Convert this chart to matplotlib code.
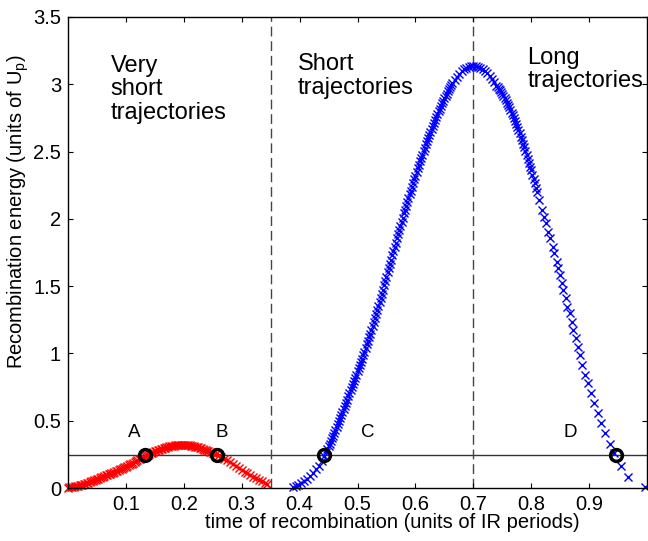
import numpy as np
import matplotlib.pyplot as plt

plt.rcParams['font.family'] = ['Liberation Sans', 'DejaVu Sans']
plt.rcParams['mathtext.default'] = 'regular'

# very short trajectories (red)
red_t = [0.0000, 0.0025, 0.0050, 0.0075, 0.0100, 0.0125, 0.0150, 0.0175, 0.0200, 0.0225,
         0.0250, 0.0275, 0.0300, 0.0325, 0.0350, 0.0375, 0.0400, 0.0425, 0.0450, 0.0475,
         0.0500, 0.0525, 0.0550, 0.0575, 0.0600, 0.0625, 0.0650, 0.0675, 0.0700, 0.0725,
         0.0750, 0.0775, 0.0800, 0.0825, 0.0850, 0.0875, 0.0900, 0.0925, 0.0950, 0.0975,
         0.1000, 0.1025, 0.1050, 0.1075, 0.1100, 0.1125, 0.1150, 0.1175, 0.1200, 0.1225,
         0.1250, 0.1275, 0.1300, 0.1325, 0.1350, 0.1375, 0.1400, 0.1425, 0.1450, 0.1475,
         0.1500, 0.1525, 0.1550, 0.1575, 0.1600, 0.1625, 0.1650, 0.1675, 0.1700, 0.1725,
         0.1750, 0.1775, 0.1800, 0.1825, 0.1850, 0.1875, 0.1900, 0.1925, 0.1950, 0.1975,
         0.2000, 0.2025, 0.2050, 0.2075, 0.2100, 0.2125, 0.2150, 0.2175, 0.2200, 0.2225,
         0.2250, 0.2275, 0.2300, 0.2325, 0.2350, 0.2375, 0.2400, 0.2425, 0.2450, 0.2475,
         0.250, 0.255, 0.260, 0.265, 0.270, 0.275, 0.280, 0.285, 0.290, 0.295,
         0.300, 0.305, 0.310, 0.315, 0.320, 0.325, 0.330, 0.335, 0.340, 0.344]
red_E = [0.003, 0.004, 0.006, 0.008, 0.010, 0.012, 0.014, 0.016, 0.019, 0.022,
         0.025, 0.028, 0.032, 0.036, 0.040, 0.045, 0.050, 0.054, 0.058, 0.062,
         0.066, 0.070, 0.075, 0.079, 0.084, 0.088, 0.093, 0.097, 0.102, 0.106,
         0.111, 0.115, 0.120, 0.124, 0.129, 0.133, 0.138, 0.143, 0.148, 0.153,
         0.158, 0.164, 0.170, 0.176, 0.182, 0.188, 0.194, 0.200, 0.206, 0.212,
         0.218, 0.224, 0.230, 0.236, 0.242, 0.247, 0.253, 0.258, 0.263, 0.268,
         0.273, 0.277, 0.282, 0.286, 0.290, 0.293, 0.297, 0.300, 0.303, 0.306,
         0.309, 0.311, 0.313, 0.315, 0.317, 0.318, 0.319, 0.320, 0.320, 0.320,
         0.320, 0.320, 0.319, 0.318, 0.317, 0.315, 0.313, 0.311, 0.308, 0.305,
         0.301, 0.298, 0.294, 0.290, 0.286, 0.282, 0.278, 0.274, 0.269, 0.265,
         0.261, 0.252, 0.242, 0.230, 0.218, 0.205, 0.191, 0.177, 0.162, 0.148,
         0.134, 0.121, 0.108, 0.095, 0.083, 0.072, 0.061, 0.050, 0.038, 0.028]

# short + long trajectories (blue)
blue_t = [0.388, 0.393, 0.398, 0.403, 0.408, 0.413, 0.418, 0.423, 0.428, 0.433,
          0.438, 0.443, 0.446, 0.448, 0.450, 0.452, 0.454, 0.456, 0.458, 0.460,
          0.462, 0.464, 0.466, 0.468, 0.470, 0.472, 0.474, 0.476, 0.478, 0.480,
          0.482, 0.484, 0.486, 0.488, 0.490, 0.492, 0.494, 0.496, 0.498, 0.500,
          0.502, 0.504, 0.506, 0.508, 0.510, 0.512, 0.514, 0.516, 0.518, 0.520,
          0.522, 0.524, 0.526, 0.528, 0.530, 0.532, 0.534, 0.536, 0.538, 0.540,
          0.542, 0.544, 0.546, 0.548, 0.550, 0.552, 0.554, 0.556, 0.558, 0.560,
          0.562, 0.564, 0.566, 0.568, 0.570, 0.572, 0.574, 0.576, 0.578, 0.580,
          0.582, 0.584, 0.586, 0.588, 0.590, 0.592, 0.594, 0.596, 0.598, 0.600,
          0.602, 0.604, 0.606, 0.608, 0.610, 0.612, 0.614, 0.616, 0.618, 0.620,
          0.622, 0.624, 0.626, 0.628, 0.630, 0.632, 0.634, 0.636, 0.638, 0.640,
          0.642, 0.644, 0.646, 0.648, 0.650, 0.652, 0.654, 0.656, 0.658, 0.660,
          0.662, 0.664, 0.668, 0.672, 0.676, 0.680, 0.684, 0.688, 0.692, 0.696,
          0.700, 0.704, 0.708, 0.712, 0.716, 0.720, 0.724, 0.728, 0.732, 0.736,
          0.740, 0.742, 0.744, 0.746, 0.748, 0.750, 0.752, 0.754, 0.756, 0.758,
          0.760, 0.762, 0.764, 0.766, 0.768, 0.770, 0.772, 0.774, 0.776, 0.778,
          0.780, 0.782, 0.784, 0.786, 0.788, 0.790, 0.792, 0.794, 0.796, 0.798,
          0.800, 0.802, 0.804, 0.806, 0.808, 0.810,
          0.8138, 0.8195, 0.8224, 0.8253, 0.8293, 0.8322, 0.8368, 0.8397, 0.8437, 0.8471,
          0.8495, 0.8529, 0.8557, 0.8598, 0.8626, 0.8667, 0.8701, 0.8730, 0.8770, 0.8810,
          0.8845, 0.8885, 0.8931, 0.8983, 0.9034, 0.9092, 0.9150, 0.9207, 0.9276, 0.9357,
          0.9437, 0.9546, 0.9678, 0.9960]
blue_E = [0.005, 0.013, 0.024, 0.037, 0.052, 0.070, 0.090, 0.113, 0.138, 0.166,
          0.198, 0.235, 0.265, 0.290, 0.310, 0.330, 0.350, 0.370, 0.390, 0.410,
          0.432, 0.454, 0.477, 0.499, 0.521, 0.543, 0.566, 0.589, 0.612, 0.634,
          0.657, 0.680, 0.703, 0.727, 0.750, 0.773, 0.797, 0.820, 0.843, 0.867,
          0.890, 0.913, 0.937, 0.960, 0.987, 1.013, 1.040, 1.067, 1.093, 1.120,
          1.148, 1.177, 1.205, 1.233, 1.262, 1.290, 1.321, 1.352, 1.382, 1.413,
          1.444, 1.475, 1.507, 1.538, 1.570, 1.602, 1.633, 1.665, 1.697, 1.728,
          1.760, 1.792, 1.823, 1.855, 1.886, 1.917, 1.947, 1.978, 2.009, 2.040,
          2.068, 2.097, 2.125, 2.153, 2.182, 2.210, 2.238, 2.265, 2.293, 2.320,
          2.348, 2.375, 2.401, 2.427, 2.453, 2.478, 2.504, 2.530, 2.553, 2.577,
          2.600, 2.623, 2.647, 2.670, 2.692, 2.713, 2.735, 2.757, 2.778, 2.800,
          2.819, 2.838, 2.858, 2.877, 2.896, 2.915, 2.931, 2.947, 2.963, 2.978,
          2.994, 3.010, 3.035, 3.057, 3.078, 3.096, 3.110, 3.121, 3.129, 3.134,
          3.136, 3.135, 3.131, 3.124, 3.114, 3.100, 3.083, 3.063, 3.040, 3.014,
          2.988, 2.978, 2.966, 2.954, 2.941, 2.928, 2.912, 2.896, 2.880, 2.864,
          2.848, 2.828, 2.809, 2.789, 2.770, 2.750, 2.727, 2.704, 2.681, 2.658,
          2.635, 2.609, 2.583, 2.557, 2.531, 2.505, 2.476, 2.447, 2.418, 2.389,
          2.360, 2.328, 2.296, 2.264, 2.232, 2.200,
          2.140, 2.065, 2.016, 1.966, 1.904, 1.855, 1.793, 1.743, 1.681, 1.632,
          1.582, 1.521, 1.471, 1.409, 1.347, 1.298, 1.236, 1.174, 1.112, 1.050,
          0.988, 0.914, 0.840, 0.778, 0.704, 0.634, 0.560, 0.485, 0.406, 0.327,
          0.258, 0.166, 0.084, 0.010]

# marked points A-D on the energy level
level = 0.245
point_t = [0.133, 0.258, 0.443, 0.946]
point_labels = ['A', 'B', 'C', 'D']
label_t = [0.114, 0.266, 0.518, 0.868]
label_E = 0.41
borders = [0.35, 0.70]

fig = plt.figure(figsize=(6.48, 5.41), dpi=100)
ax = fig.add_axes([68 / 648, 53 / 541, 579 / 648, 471 / 541])

ax.plot(red_t, red_E, 'x', color='red', markersize=6, markeredgewidth=1.0,
        clip_on=False)
ax.plot(blue_t, blue_E, 'x', color='blue', markersize=5.8, markeredgewidth=1.0,
        clip_on=False)

ax.axhline(level, color='#333333', linewidth=1.0, zorder=1)
for b in borders:
    ax.axvline(b, color='#444444', linewidth=1.0, dashes=(7, 3.5), zorder=1)

ax.plot(point_t, [level] * len(point_t), 'o', markerfacecolor='none',
        markeredgecolor='black', markeredgewidth=2.5, markersize=8.5,
        zorder=5, clip_on=False)
for lt, lab in zip(label_t, point_labels):
    ax.text(lt, label_E, lab, fontsize=13.5, ha='center', va='center')

ax.text(0.074, 3.22, 'Very\nshort\ntrajectories', fontsize=17,
        va='top', ha='left', linespacing=1.1)
ax.text(0.397, 3.23, 'Short\ntrajectories', fontsize=17,
        va='top', ha='left', linespacing=1.1)
ax.text(0.793, 3.28, 'Long\ntrajectories', fontsize=17,
        va='top', ha='left', linespacing=1.1)

ax.set_xlim(0, 1)
ax.set_ylim(0, 3.5)
ax.set_xticks([0.1, 0.2, 0.3, 0.4, 0.5, 0.6, 0.7, 0.8, 0.9])
ax.set_xticklabels(['0.1', '0.2', '0.3', '0.4', '0.5', '0.6', '0.7', '0.8', '0.9'])
ax.set_yticks([0, 0.5, 1, 1.5, 2, 2.5, 3, 3.5])
ax.set_yticklabels(['0', '0.5', '1', '1.5', '2', '2.5', '3', '3.5'])
ax.tick_params(direction='in', top=True, right=True, length=3.6,
               width=0.8, labelsize=14.5, pad=5)
for s in ax.spines.values():
    s.set_linewidth(1.0)

fig.text(392 / 648, 1 - 523 / 541, 'time of recombination (units of IR periods)',
         fontsize=14.5, ha='center', va='center')
fig.text(18 / 648, 1 - 212 / 541, 'Recombination energy (units of U$_p$)',
         fontsize=14.5, ha='center', va='center', rotation=90)

fig.savefig('out.png', dpi=100)
